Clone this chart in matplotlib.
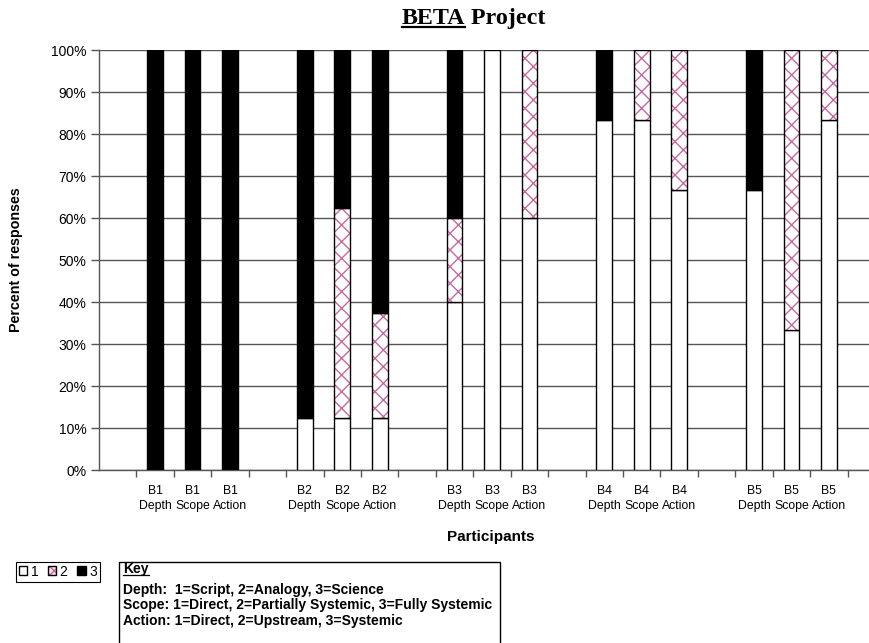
import matplotlib
matplotlib.use("Agg")
import matplotlib.pyplot as plt
from matplotlib.patches import Rectangle, Patch
from matplotlib.lines import Line2D
from matplotlib.legend_handler import HandlerTuple
import numpy as np

# --- data -------------------------------------------------------------
participants = ["B1", "B2", "B3", "B4", "B5"]
measures = ["Depth", "Scope", "Action"]

# share of responses (%) rated 1, 2 and 3, ordered Depth/Scope/Action per participant
level1 = [0, 0, 0,
          12.5, 12.5, 12.5,
          40, 100, 60,
          83.3, 83.3, 66.7,
          66.7, 33.3, 83.3]
level2 = [0, 0, 0,
          0, 50, 25,
          20, 0, 40,
          0, 16.7, 33.3,
          0, 66.7, 16.7]
level3 = [100, 100, 100,
          87.5, 37.5, 62.5,
          40, 0, 0,
          16.7, 0, 0,
          33.3, 0, 0]

yticks = list(range(0, 101, 10))
key_lines = ["Depth:  1=Script, 2=Analogy, 3=Science",
             "Scope: 1=Direct, 2=Partially Systemic, 3=Fully Systemic",
             "Action: 1=Direct, 2=Upstream, 3=Systemic"]

# --- layout -----------------------------------------------------------
plt.rcParams['font.family'] = ['Liberation Sans', 'DejaVu Sans']
plt.rcParams['hatch.linewidth'] = 1.0
W, H = 870, 643
fig = plt.figure(figsize=(W / 100, H / 100), dpi=100)


def fx(px):
    return px / W


def fy(py):
    return 1 - py / H


ax = fig.add_axes([fx(99), fy(470), fx(870) - fx(99), fy(50) - fy(470)])

# category slots: a blank slot before each participant group
positions = []
labels = []
slot = 1
for p in participants:
    for m in measures:
        positions.append(slot)
        labels.append(f"{p}\n{m}")
        slot += 1
    slot += 1
positions = np.array(positions)

l1 = np.array(level1)
l2 = np.array(level2)
l3 = np.array(level3)
bw = 0.42
hatch_col = "#c8689e"
grid_col = "#555555"

ax.bar(positions, l1, bw, color="white", edgecolor="black", linewidth=1.0, zorder=3)
mask2 = l2 > 0
ax.bar(positions[mask2], l2[mask2], bw, bottom=l1[mask2], color="white",
       edgecolor=hatch_col, hatch="xx", linewidth=0, zorder=3)
ax.bar(positions[mask2], l2[mask2], bw, bottom=l1[mask2], color="none",
       edgecolor="black", linewidth=1.0, zorder=4)
mask3 = l3 > 0
ax.bar(positions[mask3], l3[mask3], bw, bottom=(l1 + l2)[mask3], color="black",
       edgecolor="black", linewidth=1.0, zorder=3)

ax.set_xlim(-0.5, 20.1)
ax.set_ylim(0, 100)
ax.set_yticks(yticks)
ax.set_yticklabels([f"{v}%" for v in yticks], fontsize=10)
ax.yaxis.grid(True, color=grid_col, linewidth=1.0, zorder=0)
ax.set_axisbelow(True)

ax.set_xticks(positions)
ax.set_xticklabels(labels, fontsize=8.8, linespacing=1.25)
ax.tick_params(axis="x", length=0, pad=11)
ax.set_xticks(np.arange(0.5, 20.5, 1), minor=True)
ax.tick_params(axis="x", which="minor", length=5, width=1.0, color=grid_col)
ax.tick_params(axis="y", length=6, width=1.0, color=grid_col, pad=3)

for s in ["top", "right"]:
    ax.spines[s].set_visible(False)
for s in ["left", "bottom"]:
    ax.spines[s].set_color(grid_col)
    ax.spines[s].set_linewidth(1.0)

fig.text(fx(16), fy(260), "Percent of responses", fontsize=10.3,
         fontweight="bold", rotation=90, ha="center", va="center")
fig.text(fx(491), fy(537), "Participants", fontsize=11, fontweight="bold",
         ha="center", va="center")

# title with underlined first word
title_font = dict(family=["Liberation Serif"], fontsize=17.3, fontweight="bold")
t1 = fig.text(fx(402), fy(24), "BETA", ha="left", va="baseline", **title_font)
fig.canvas.draw()
bb = t1.get_window_extent(fig.canvas.get_renderer())
fig.text(bb.x1 / W, fy(24), " Project", ha="left", va="baseline", **title_font)
fig.add_artist(Line2D([bb.x0 / W, bb.x1 / W], [fy(27), fy(27)],
                      color="black", linewidth=1.6, transform=fig.transFigure))

# legend for rating levels
h1 = Patch(facecolor="white", edgecolor="black")
h2 = (Patch(facecolor="#f4e4ec", edgecolor=hatch_col, hatch="xxxx", linewidth=0),
      Patch(facecolor="none", edgecolor="black"))
h3 = Patch(facecolor="black", edgecolor="black")
leg = fig.legend(handles=[h1, h2, h3], labels=["1", "2", "3"], loc="upper left",
                 bbox_to_anchor=(fx(16), fy(562)), ncol=3, fontsize=10,
                 handler_map={tuple: HandlerTuple(ndivide=1, pad=0)},
                 handlelength=0.6, handleheight=0.6, handletextpad=0.25,
                 columnspacing=0.7, borderpad=0.2, borderaxespad=0,
                 fancybox=False, edgecolor="black", framealpha=1)
leg.get_frame().set_linewidth(0.8)

# key box
fig.add_artist(Rectangle((fx(119), fy(660)), fx(500) - fx(119), fy(562) - fy(660),
                         transform=fig.transFigure, facecolor="white",
                         edgecolor="black", linewidth=1.0))
kt = fig.text(fx(123), fy(569), "Key", fontsize=10, fontweight="bold",
              ha="left", va="center")
fig.canvas.draw()
kb = kt.get_window_extent(fig.canvas.get_renderer())
fig.add_artist(Line2D([kb.x0 / W, kb.x1 / W], [fy(575), fy(575)], color="black",
                      linewidth=0.9, transform=fig.transFigure))
for i, line in enumerate(key_lines):
    fig.text(fx(123), fy(590 + 15.5 * i), line, fontsize=10, fontweight="bold",
             ha="left", va="center")

fig.savefig("out.png", dpi=100)
